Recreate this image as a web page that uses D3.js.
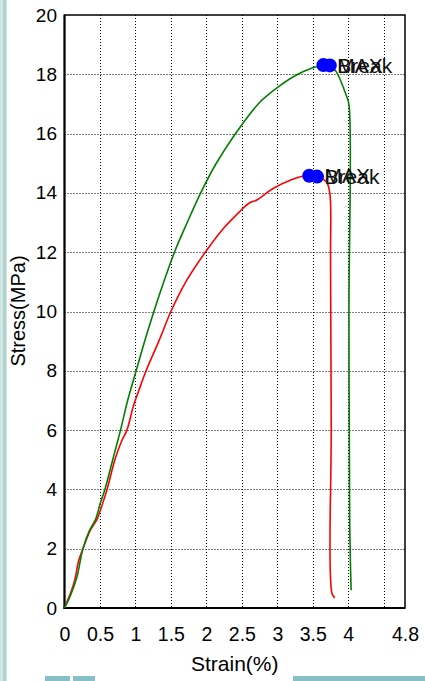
<!doctype html>
<html lang="en">
<head>
  <meta charset="utf-8">
  <title>Stress-Strain</title>
  <style type="text/css">
    body{ margin:0; background:#fff; }
    svg{ display:block; }
    text{ font-family: "Liberation Sans", Arial, Helvetica, sans-serif; fill:#000; }
    .grid line{ stroke:#000; stroke-width:1; stroke-dasharray:1,2; }
    .curve{ fill:none; stroke-width:1.6; stroke-linejoin:round; }
  </style>
</head>
<body>
  <div id="vis"></div>
  <script src="https://cdn.jsdelivr.net/npm/d3@7"></script>
  <script type="text/javascript">

    var width = 425,
      height = 681;

    // strain (%) / stress (MPa)
    var greenStrain = [0,0.08,0.17,0.26,0.35,0.44,0.5,0.57,0.68,0.79,0.89,1.01,1.13,1.26,1.40,1.55,1.73,1.92,2.14,2.5,2.75,3.0,3.25,3.5,3.65,3.74,3.83,3.97,4.01,4.01,4.02,4.04];
    var greenStress = [0,0.4,1.0,2.0,2.6,3.0,3.5,4.0,5.0,6.0,7.0,8.0,9.0,10.0,11.0,12.0,13.0,14.0,15.0,16.3,17.05,17.55,17.95,18.22,18.31,18.3,18.09,17.3,16.97,10.0,3.0,0.6];

    var redStrain = [0,0.05,0.1,0.15,0.2,0.26,0.36,0.46,0.52,0.6,0.71,0.8,0.88,0.97,1.05,1.15,1.33,1.5,1.71,2.0,2.24,2.47,2.6,2.71,2.94,3.18,3.34,3.45,3.56,3.69,3.74,3.75,3.76,3.77,3.81];
    var redStress = [0,0.3,0.6,1.0,1.6,2.0,2.6,3.0,3.4,4.0,5.0,5.6,6.0,6.8,7.35,8.0,9.0,10.0,11.0,12.05,12.8,13.37,13.65,13.76,14.15,14.43,14.55,14.58,14.52,14.38,13.99,11.74,6.1,0.5,0.34];

    var markerLabels = ['MAX','Break'];
    var greenMarkerStrain = [3.65,3.74],
      greenMarkerStress = [18.31,18.3];
    var redMarkerStrain = [3.45,3.56],
      redMarkerStress = [14.58,14.55];

    var xTicks = [0,0.5,1,1.5,2,2.5,3,3.5,4,4.8],
      xGrid = [0.5,1,1.5,2,2.5,3,3.5,4,4.5],
      yTicks = [0,2,4,6,8,10,12,14,16,18,20],
      yGrid = [2,4,6,8,10,12,14,16,18];

    var svg = d3.select("#vis").append("svg")
      .attr("width", width)
      .attr("height", height);

    // window decoration at the edges
    svg.append('rect').attr('x',0).attr('y',0).attr('width',7).attr('height',height).style('fill','#d0e6e3');
    svg.append('rect').attr('x',3).attr('y',0).attr('width',3).attr('height',height).style('fill','#b0d2ce');
    svg.append('rect').attr('x',45).attr('y',676).attr('width',25).attr('height',5).style('fill','#86c0c6');
    svg.append('rect').attr('x',73).attr('y',676).attr('width',22).attr('height',5).style('fill','#86c0c6');
    svg.append('rect').attr('x',293).attr('y',676).attr('width',132).attr('height',5).style('fill','#86c0c6');

    var x = d3.scaleLinear().domain([0,4.8]).range([64.5,405]),
      y = d3.scaleLinear().domain([0,20]).range([608,15]);

    var grid = svg.append('g').attr('class','grid');
    grid.selectAll('.gx').data(xGrid).enter().append('line')
      .attr('x1', function(d){ return Math.round(x(d))+0.5; })
      .attr('x2', function(d){ return Math.round(x(d))+0.5; })
      .attr('y1', y(20)).attr('y2', y(0));
    grid.selectAll('.gy').data(yGrid).enter().append('line')
      .attr('y1', function(d){ return Math.round(y(d))+0.5; })
      .attr('y2', function(d){ return Math.round(y(d))+0.5; })
      .attr('x1', x(0)).attr('x2', x(4.8));

    // frame
    svg.append('rect')
      .attr('x', x(0)).attr('y', y(20))
      .attr('width', x(4.8)-x(0)).attr('height', y(0)-y(20))
      .style('fill','none').style('stroke','#000').style('stroke-width',1.5);

    var xAxis = svg.append('g')
      .attr('transform','translate(0,'+y(0)+')')
      .call(d3.axisBottom(x).tickValues(xTicks).tickSize(0).tickFormat(function(d){ return String(d); }));
    xAxis.select('.domain').remove();
    xAxis.selectAll('text')
      .attr('y', 33).attr('dy', 0)
      .style('font-size','19.5px').style('font-family','"Liberation Sans", Arial, sans-serif').style('fill','#000');

    var yAxis = svg.append('g')
      .attr('transform','translate('+x(0)+',0)')
      .call(d3.axisLeft(y).tickValues(yTicks).tickSize(0).tickPadding(7.5));
    yAxis.select('.domain').remove();
    yAxis.selectAll('text')
      .style('font-size','19px').style('font-family','"Liberation Sans", Arial, sans-serif').style('fill','#000');

    // axis lines, a bit heavier on left and bottom
    svg.append('line').attr('x1',x(0)).attr('x2',x(0)).attr('y1',y(20)).attr('y2',y(0)+1)
      .style('stroke','#000').style('stroke-width',2);
    svg.append('line').attr('x1',x(0)-1).attr('x2',x(4.8)).attr('y1',y(0)).attr('y2',y(0))
      .style('stroke','#000').style('stroke-width',2);

    svg.append('text')
      .attr('x', (x(0)+x(4.8))/2).attr('y', 671)
      .attr('text-anchor','middle')
      .style('font-size','21px')
      .text('Strain(%)');

    svg.append('text')
      .attr('transform','translate(25,311) rotate(-90)')
      .attr('text-anchor','middle')
      .style('font-size','20px')
      .text('Stress(MPa)');

    var line = d3.line()
      .curve(d3.curveCatmullRom.alpha(0.5))
      .x(function(d){ return x(d[0]); })
      .y(function(d){ return y(d[1]); });

    function series(xs, ys){
      return xs.map(function(v,i){ return [v, ys[i]]; });
    }

    var curves = svg.append('g');
    curves.append('path').attr('class','curve')
      .attr('d', line(series(redStrain, redStress)))
      .style('stroke','#ff0000');
    curves.append('path').attr('class','curve')
      .attr('d', line(series(greenStrain, greenStress)))
      .style('stroke','#008000');

    function drawMarkers(xs, ys){
      var g = svg.append('g');
      var pts = series(xs, ys);
      g.selectAll('circle').data(pts).enter().append('circle')
        .attr('cx', function(d){ return x(d[0]); })
        .attr('cy', function(d){ return y(d[1]); })
        .attr('r', 7)
        .style('fill','#0000ff');
      var lx = d3.max(pts, function(d){ return x(d[0]); }) + 7.5;
      g.selectAll('text').data(pts).enter().append('text')
        .attr('x', lx)
        .attr('y', function(d){ return y(d[1]); })
        .attr('dy','0.36em')
        .style('font-size','21px')
        .style('fill','#111')
        .text(function(d,i){ return markerLabels[i]; });
    }

    drawMarkers(greenMarkerStrain, greenMarkerStress);
    drawMarkers(redMarkerStrain, redMarkerStress);

  </script>
</body>
</html>
